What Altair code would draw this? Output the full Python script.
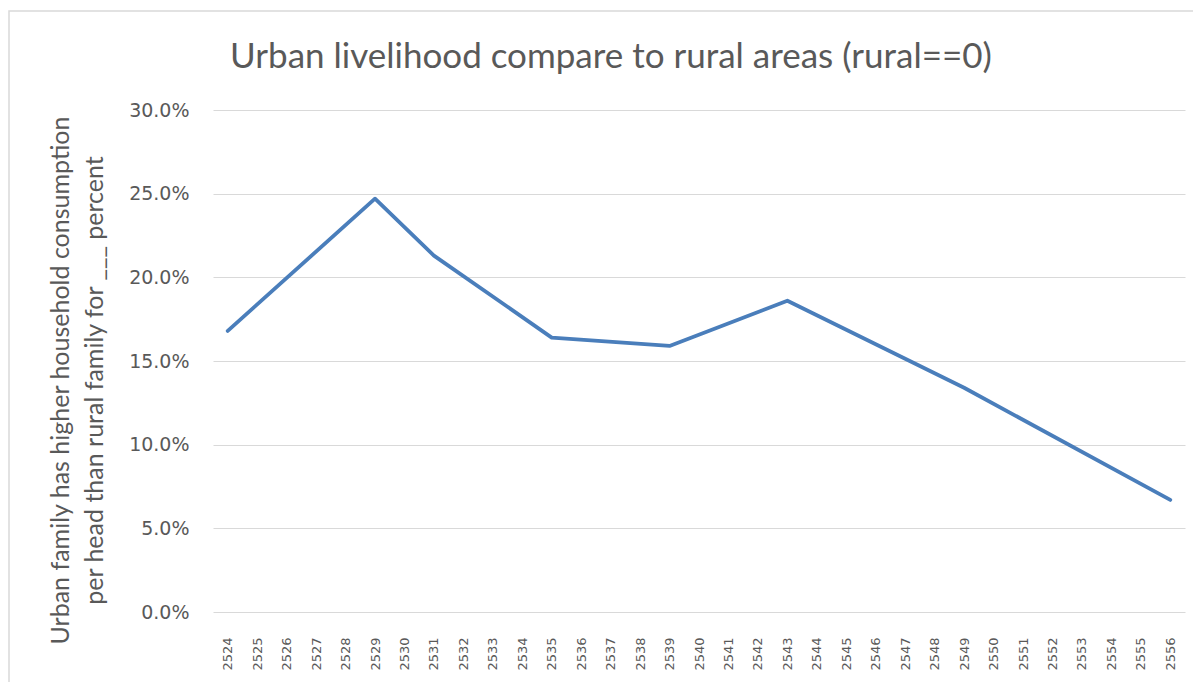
import altair as alt
import pandas as pd

# Category axis (Thai Buddhist-era years)
all_years = [str(y) for y in range(2524, 2557)]

# Observed data points
years = ["2524", "2529", "2531", "2535", "2539", "2543", "2549", "2556"]
values = [0.168, 0.247, 0.213, 0.164, 0.159, 0.186, 0.134, 0.067]

y_ticks = [0.0, 0.05, 0.10, 0.15, 0.20, 0.25, 0.30]

title_text = "Urban livelihood compare to rural areas (rural==0)"
y_title = ["Urban family has higher household consumption",
           "per head than rural family for ___ percent"]

df = pd.DataFrame({"year": years, "value": values})

W, H = 972, 502
PAD_L, PAD_T, PAD_R, PAD_B = 205, 102, 8, 70

line = alt.Chart(df).mark_line(color="#4A7EBB", strokeWidth=3.8, strokeCap="round", strokeJoin="round").encode(
    x=alt.X("year:O", scale=alt.Scale(domain=all_years, type="point", padding=0.5),
            axis=alt.Axis(title=None, labelAngle=270, labelFontSize=13, labelColor="#595959",
                          labelFont="DejaVu Sans", labelPadding=25, ticks=False, domain=False, grid=False,
                          labelOverlap=False)),
    y=alt.Y("value:Q", scale=alt.Scale(domain=[0, 0.3], nice=False, zero=True),
            axis=alt.Axis(title=y_title, format=".1%", values=y_ticks, labelFontSize=19,
                          labelColor="#595959", labelFont="DejaVu Sans", labelPadding=24, ticks=False,
                          domain=False, grid=True, gridColor="#d9d9d9", gridWidth=1,
                          titleFont="Lato", titleFontSize=25, titleFontWeight="normal",
                          titleColor="#595959", titleAngle=270, titleBaseline="middle",
                          titleAlign="center", titleX=-153, titleY=270, titleLineHeight=34)),
)

border = alt.Chart(pd.DataFrame({"b": [0]})).mark_rect(
    fill=None, stroke="#d9d9d9", strokeWidth=1.5, clip=False
).encode(
    x=alt.value(-204), x2=alt.value(W + PAD_R + 10),
    y=alt.value(-99), y2=alt.value(H + PAD_B + 50),
)

chart = alt.layer(border, line).properties(
    width=W, height=H,
    title=alt.TitleParams(title_text, font="Lato", fontSize=35, fontWeight="normal",
                          color="#595959", anchor="middle", frame="group", dx=-88, offset=-65),
    autosize=alt.AutoSizeParams(type="none"),
    padding={"left": PAD_L, "top": PAD_T, "right": PAD_R, "bottom": PAD_B},
).configure_view(stroke=None)

chart.save("out.html", embed_options={"renderer": "svg", "actions": False})
